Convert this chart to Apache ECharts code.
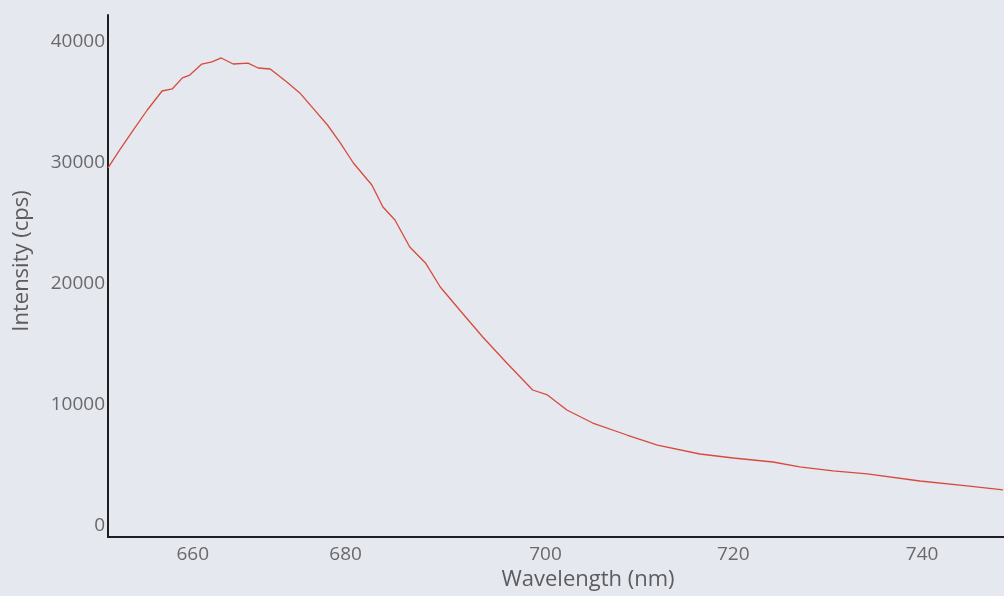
<!DOCTYPE html>
<html>
<head>
<meta charset="utf-8">
<script src="https://cdn.jsdelivr.net/npm/echarts@6/dist/echarts.min.js"></script>
<style>
html,body{margin:0;padding:0;background:#e5e8ee;}
#chart{width:1004px;height:596px;}
</style>
</head>
<body>
<div id="chart"></div>
<script>
// Data
const wavelengths = [652.45, 653.7, 655.2, 656.7, 658.3, 659.4, 660.5, 661.3, 662.6, 663.7, 664.7, 666.0, 667.6, 668.7, 670.0, 671.8, 673.2, 674.6, 676.2, 677.6, 679.0, 681.0, 682.2, 683.5, 685.1, 686.8, 688.4, 690.5, 693.0, 695.6, 698.4, 700.0, 702.1, 704.9, 708.6, 711.9, 716.5, 720.1, 724.4, 727.3, 730.9, 734.6, 740.3, 745.4, 749.3];
const intensity = [29590, 31070, 32730, 34380, 35950, 36120, 37030, 37270, 38180, 38350, 38680, 38180, 38260, 37850, 37770, 36690, 35790, 34550, 33140, 31650, 30000, 28180, 26360, 25290, 23060, 21740, 19750, 17850, 15620, 13470, 11240, 10830, 9590, 8510, 7520, 6690, 5950, 5620, 5290, 4880, 4550, 4300, 3720, 3310, 2980];
const xTickLabels = [660, 680, 700, 720, 740];
const yTickLabels = [0, 10000, 20000, 30000, 40000];
const xTitle = 'Wavelength (nm)';
const yTitle = 'Intensity (cps)';

// styling only: small horizontal nudges of the printed x labels (px, + = right)
const xLabelNudge = [15, -17, -2, 1, 5];

const points = wavelengths.map((w, i) => [w, intensity[i]]);
const textColor = '#6b686b';
const font = '"Open Sans", "DejaVu Sans", sans-serif';

const rich = {};
xTickLabels.forEach((v, i) => {
  const n = xLabelNudge[i];
  rich['l' + i] = {
    color: textColor, fontSize: 19, fontFamily: font,
    padding: n >= 0 ? [0, 0, 0, 2 * n] : [0, -2 * n, 0, 0]
  };
});

const chart = echarts.init(document.getElementById('chart'), null, {renderer: 'canvas'});
chart.setOption({
  backgroundColor: '#e5e8ee',
  animation: false,
  grid: {left: 108, right: 0, top: 15, bottom: 59, containLabel: false},
  xAxis: {
    type: 'value',
    min: 652.45,
    max: 749.4,
    name: xTitle,
    nameLocation: 'middle',
    nameGap: 32,
    nameTextStyle: {color: '#5e5b5e', fontSize: 22, fontFamily: font, padding: [0, 0, 0, 64]},
    axisLine: {show: true, onZero: false, lineStyle: {color: '#1e1e1e', width: 2}},
    axisTick: {show: false},
    splitLine: {show: false},
    axisLabel: {
      show: true,
      customValues: xTickLabels,
      color: textColor,
      fontSize: 19,
      fontFamily: font,
      margin: 8,
      formatter: function (v) {
        const i = xTickLabels.indexOf(Math.round(v));
        return i >= 0 ? '{l' + i + '|' + String(Math.round(v)) + '}' : String(v);
      },
      rich: rich
    }
  },
  yAxis: {
    type: 'value',
    min: -909,
    max: 42231,
    name: yTitle,
    nameLocation: 'middle',
    nameGap: 75,
    nameRotate: 90,
    nameTextStyle: {color: '#5e5b5e', fontSize: 22, fontFamily: font, padding: [0, 0, 0, 30]},
    axisLine: {show: true, onZero: false, lineStyle: {color: '#1e1e1e', width: 2}},
    axisTick: {show: false},
    splitLine: {show: false},
    axisLabel: {
      show: true,
      customValues: yTickLabels,
      color: textColor,
      fontSize: 19,
      fontFamily: font,
      margin: 3,
      formatter: function (v) { return String(Math.round(v)); }
    }
  },
  series: [{
    type: 'line',
    data: points,
    showSymbol: false,
    smooth: false,
    clip: true,
    lineStyle: {color: '#d84a3c', width: 1.3}
  }]
});
</script>
</body>
</html>
